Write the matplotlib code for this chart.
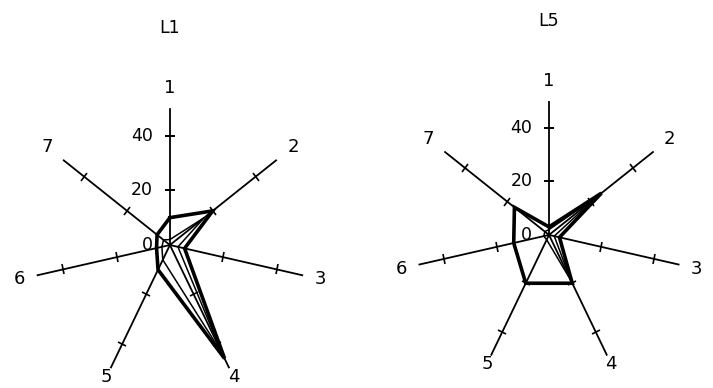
import numpy as np
import matplotlib
matplotlib.use("Agg")
import matplotlib.pyplot as plt
from matplotlib.markers import MarkerStyle
from matplotlib.transforms import Affine2D

# Achsen 1..7, Werte von 0 bis 50
achsen = ["1", "2", "3", "4", "5", "6", "7"]
r_max = 50
ticks = [20, 40]
tick_labels = ["0", "20", "40"]

# L1: dicke und duenne Linie
l1_dick = [10, 20, 5.5, 46, 10, 5, 6]
l1_duenn = [2, 16, 3, 44, 6, 3, 3]

# L5: dicke und duenne Linie
l5_dick = [3, 25, 4, 20, 20, 13.5, 16.5]
l5_duenn = [2, 23, 2, 19, 2, 2, 2]

winkel = np.linspace(0, 2 * np.pi, len(achsen), endpoint=False)


def zeichne_netz(ax, titel, dick, duenn):
    ax.set_theta_zero_location("N")
    ax.set_theta_direction(-1)
    ax.set_ylim(0, r_max)
    ax.axis("off")
    # Radiale Achsen mit Strichen
    for w, name in zip(winkel, achsen):
        ax.plot([w, w], [0, r_max], color="black", lw=1.3, solid_capstyle="butt")
        m = MarkerStyle("_", transform=Affine2D().rotate_deg(-np.degrees(w)))
        ax.plot([w] * len(ticks), ticks, linestyle="none", marker=m,
                markersize=7, markeredgewidth=1.2, color="black")
        # unten etwas naeher an die Achse
        r_txt = 57.5 - 4.5 * max(0.0, -np.cos(w))
        ax.text(w, r_txt, name, ha="center", va="center", fontsize=13)
    # Beschriftung auf Achse 1
    for wert, txt in zip([0] + ticks, tick_labels):
        ax.annotate(txt, xy=(0, wert), xytext=(-12, 0), textcoords="offset points",
                    ha="right", va="center", fontsize=12.5)
    # Polygone
    w_geschl = np.append(winkel, winkel[0])
    ax.plot(w_geschl, duenn + duenn[:1], color="black", lw=1.1)
    ax.plot(w_geschl, dick + dick[:1], color="black", lw=2.6, solid_joinstyle="miter")
    ax.set_title(titel, fontsize=12.5, pad=54)


fig = plt.figure(figsize=(7.13, 3.88), dpi=100)
ax1 = fig.add_axes([0.0463, 0.0155, 0.384, 0.706], projection="polar")
ax2 = fig.add_axes([0.582, 0.049, 0.376, 0.691], projection="polar")
zeichne_netz(ax1, "L1", l1_dick, l1_duenn)
zeichne_netz(ax2, "L5", l5_dick, l5_duenn)

fig.savefig("out.png", dpi=100)
